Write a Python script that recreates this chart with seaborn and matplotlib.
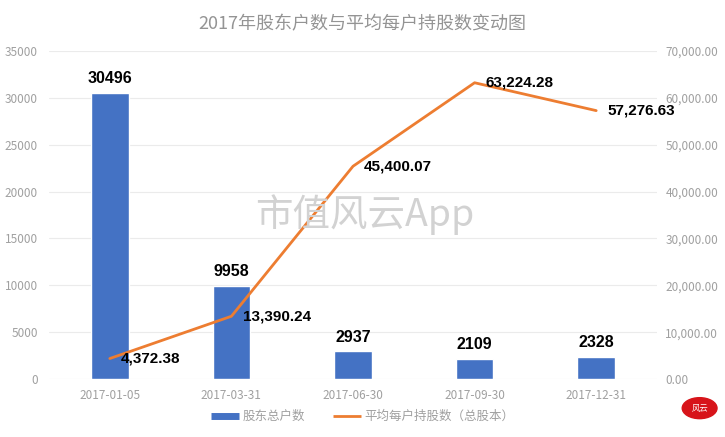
import numpy as np
import pandas as pd
import matplotlib
matplotlib.use("Agg")
import matplotlib.pyplot as plt
import seaborn as sns
from matplotlib.patches import Circle
from matplotlib.lines import Line2D
from matplotlib.ticker import FuncFormatter

dates = ["2017-01-05", "2017-03-31", "2017-06-30", "2017-09-30", "2017-12-31"]
holders = [30496, 9958, 2937, 2109, 2328]
avg_shares = [4372.38, 13390.24, 45400.07, 63224.28, 57276.63]

title = "2017年股东户数与平均每户持股数变动图"
bar_name = "股东总户数"
line_name = "平均每户持股数（总股本）"

BLUE = "#4472C4"
ORANGE = "#ED7D31"
GRAY = "#A0A0A0"

sns.set_style("white")
plt.rcParams["font.family"] = ["Noto Sans CJK SC", "DejaVu Sans"]

df = pd.DataFrame({"date": dates, "holders": holders, "avg": avg_shares})

fig = plt.figure(figsize=(7.25, 4.37), dpi=100)
ax = fig.add_axes([0.0676, 0.1327, 0.8386, 0.7506])
ax2 = ax.twinx()

sns.barplot(data=df, x="date", y="holders", ax=ax, color=BLUE, width=0.31,
            saturation=1, zorder=2)
sns.pointplot(data=df, x="date", y="avg", ax=ax2, color=ORANGE, markers="",
              errorbar=None, lw=2.0, zorder=3)

ax.set_ylim(0, 35000)
ax2.set_ylim(0, 70000)
ax.set_yticks(np.arange(0, 35001, 5000))
ax2.set_yticks(np.arange(0, 70001, 10000))
ax2.yaxis.set_major_formatter(FuncFormatter(lambda v, p: f"{v:,.2f}"))
ax.set_xlim(-0.5, len(dates) - 0.5)

ax.grid(axis="y", color="#EBEBEB", lw=0.8, zorder=0)
ax.set_axisbelow(True)
for a in (ax, ax2):
    for s in a.spines.values():
        s.set_visible(False)
    a.set_xlabel("")
    a.set_ylabel("")
    a.tick_params(length=0, labelsize=8.5, labelcolor=GRAY)
ax.tick_params(axis="y", pad=8)
ax2.tick_params(axis="y", pad=6)
ax.tick_params(axis="x", pad=7)

ax.bar_label(ax.containers[0], fmt="%d", padding=5, fontsize=11.5,
             fontweight="bold", family="Liberation Sans", color="black")

for i, v in enumerate(avg_shares):
    ax2.annotate(f"{v:,.2f}", (i, v), xytext=(8, 0), textcoords="offset points",
                 va="center", ha="left", fontsize=11, fontweight="bold",
                 family="Liberation Sans", color="black", zorder=5)

fig.suptitle(title, y=0.965, fontsize=13, color="#949494")

handles = [Line2D([], [], color=BLUE, lw=5, solid_capstyle="butt"),
           Line2D([], [], color=ORANGE, lw=2, solid_capstyle="butt")]
fig.legend(handles, [bar_name, line_name], loc="center", bbox_to_anchor=(0.5, 0.047),
           ncol=2, frameon=False, fontsize=9, labelcolor=GRAY,
           handlelength=2.3, handletextpad=0.25, columnspacing=2.2)

# watermark and logo
fig.text(0.503, 0.508, "市值风云App", ha="center", va="center", fontsize=27,
         color="#D2D2D2", zorder=0)
fig.patches.append(Circle((0.965, 0.066), 0.024, transform=fig.transFigure,
                          color="#D7141A", figure=fig, zorder=10))
fig.text(0.965, 0.066, "风云", ha="center", va="center", fontsize=6,
         color="white", zorder=11)

fig.savefig("out.png", dpi=100)
